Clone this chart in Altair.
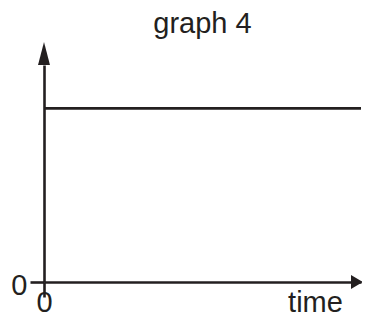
import altair as alt
import pandas as pd

# ---- data ----
time_vals = [0, 10]          # horizontal line spans the whole time range
level_vals = [8.0, 8.0]      # constant level
x_ticks = [0]
y_ticks = [0]
x_axis_title = "time"
chart_title = "graph 4"

# arrow heads sit at the end of each axis domain
x_arrow = {"time": [10], "level": [0]}
y_arrow = {"time": [0], "level": [10]}

INK = "#231f20"
FONT = "Liberation Sans"
FS = 29
LW = 2.6

line_df = pd.DataFrame({"time": time_vals, "level": level_vals})
xa_df = pd.DataFrame(x_arrow)
ya_df = pd.DataFrame(y_arrow)

x_scale = alt.Scale(domain=[0, 10], nice=False, zero=False)
y_scale = alt.Scale(domain=[0, 10], nice=False, zero=False)

x_enc = alt.X(
    "time:Q",
    scale=x_scale,
    axis=alt.Axis(
        values=x_ticks, grid=False, domain=True, domainColor=INK, domainWidth=LW,
        ticks=True, tickColor=INK, tickWidth=LW, tickSize=15,
        labelFont=FONT, labelFontSize=FS, labelColor=INK, labelBaseline="alphabetic",
        labelPadding=14, labelAlign="center",
        title=x_axis_title, titleFont=FONT, titleFontSize=FS, titleFontWeight="normal",
        titleColor=INK, titleX=271, titleY=29, titleBaseline="alphabetic", titleAlign="center",
    ),
)
y_enc = alt.Y(
    "level:Q",
    scale=y_scale,
    axis=alt.Axis(
        values=y_ticks, grid=False, domain=True, domainColor=INK, domainWidth=LW,
        ticks=True, tickColor=INK, tickWidth=LW, tickSize=14,
        labelFont=FONT, labelFontSize=FS, labelColor=INK, labelBaseline="middle",
        labelPadding=3, labelOffset=3, title=None,
    ),
)

line = alt.Chart(line_df).mark_line(color=INK, strokeWidth=LW, clip=False).encode(
    x=x_enc, y=y_enc
)

xa = alt.Chart(xa_df).mark_point(
    shape="M-0.87,-0.6L0.17,0L-0.87,0.6Z", size=529, filled=True,
    color=INK, opacity=1, strokeWidth=0, clip=False,
).encode(x=alt.X("time:Q", scale=x_scale), y=alt.Y("level:Q", scale=y_scale))

ya = alt.Chart(ya_df).mark_point(
    shape="M-0.52,0L0,-2L0.52,0Z", size=529, filled=True,
    color=INK, opacity=1, strokeWidth=0, clip=False,
).encode(x=alt.X("time:Q", scale=x_scale), y=alt.Y("level:Q", scale=y_scale))

chart = (
    alt.layer(line, xa, ya)
    .properties(
        width=317,
        height=217,
        title=alt.TitleParams(
            chart_title, font=FONT, fontSize=FS, fontWeight="normal", color=INK,
            anchor="middle", frame="group", baseline="alphabetic", offset=5, dy=25,
        ),
        autosize=alt.AutoSizeParams(type="none"),
        padding={"left": 36, "top": 57, "right": 1, "bottom": 30},
        background="white",
    )
    .configure_view(strokeWidth=0)
)

chart.save("out.html", embed_options={"renderer": "svg", "actions": False})
